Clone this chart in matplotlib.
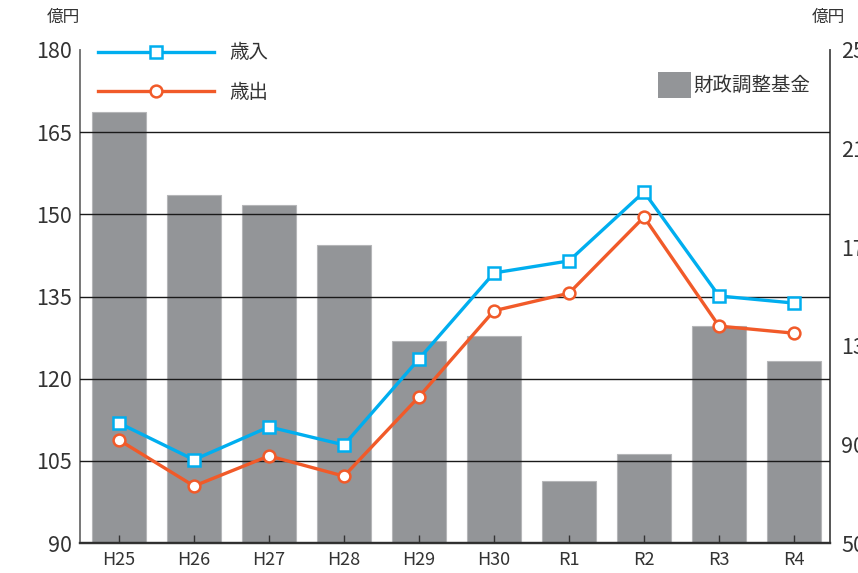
import matplotlib
matplotlib.use("Agg")
import matplotlib.pyplot as plt
from matplotlib.patches import Patch
from matplotlib.lines import Line2D

plt.rcParams['font.family'] = ['Noto Sans CJK JP', 'DejaVu Sans']

categories = ['H25', 'H26', 'H27', 'H28', 'H29', 'H30', 'R1', 'R2', 'R3', 'R4']
revenue = [111.9, 105.2, 111.2, 107.9, 123.6, 139.3, 141.5, 154.1, 135.1, 133.8]
expenditure = [108.8, 100.4, 105.9, 102.2, 116.7, 132.4, 135.6, 149.5, 129.6, 128.3]
fund = [225, 191, 187, 171, 132, 134, 75, 86, 138, 124]

left_ticks = [90, 105, 120, 135, 150, 165, 180]
right_ticks = [50, 90, 130, 170, 210, 250]

BLUE = '#00AEEF'
ORANGE = '#F15A29'
GREY = '#939598'

W, H = 858, 573
fig = plt.figure(figsize=(W/100, H/100), dpi=100)
ax = fig.add_axes([80/W, (H-543)/H, 750/W, 493/H])
ax2 = ax.twinx()

x = list(range(len(categories)))

ax2.set_zorder(0)
ax.set_zorder(1)
ax.patch.set_visible(False)

ax2.bar(x, fund, width=0.72, color=GREY, edgecolor='#B5B6B8', linewidth=0.8, zorder=1)
ax2.set_ylim(50, 250)
ax2.set_yticks(right_ticks)
ax2.tick_params(axis='y', length=0, pad=8, labelsize=15.5, labelcolor='#333333')

ax.set_ylim(90, 180)
ax.set_xlim(-0.52, 9.48)
ax.set_yticks(left_ticks)
ax.yaxis.grid(True, color='#1a1a1a', linewidth=1.0)
ax.set_axisbelow(False)
# no gridline at the top value
gl = ax.yaxis.get_gridlines()
gl[-1].set_visible(False)
ax.tick_params(axis='y', length=0, pad=6, labelsize=15.5, labelcolor='#333333')

ax.set_xticks(x)
ax.set_xticklabels(categories)
ax.tick_params(axis='x', direction='in', length=6, width=1, color='#333333',
               labelsize=13, labelcolor='#333333', pad=6)

ax.plot(x, revenue, color=BLUE, lw=2.4, marker='s', ms=8, mfc='white',
        mec=BLUE, mew=1.8, zorder=5)
ax.plot(x, expenditure, color=ORANGE, lw=2.4, marker='o', ms=8.5, mfc='white',
        mec=ORANGE, mew=1.8, zorder=5)

for a in (ax, ax2):
    a.spines['top'].set_visible(False)
    a.spines['left'].set_color('#777777')
    a.spines['right'].set_color('#555555')
    a.spines['bottom'].set_color('#333333')
    a.spines['bottom'].set_linewidth(1.6)
    a.spines['left'].set_linewidth(1.2)
    a.spines['right'].set_linewidth(1.2)

# unit labels
fig.text(63/W, 1-17/H, '億円', ha='center', va='center', fontsize=12, color='#333333')
fig.text(828/W, 1-17/H, '億円', ha='center', va='center', fontsize=12, color='#333333')

# legends
line_handles = [
    Line2D([], [], color=BLUE, lw=2.4, marker='s', ms=8, mfc='white', mec=BLUE, mew=1.8),
    Line2D([], [], color=ORANGE, lw=2.4, marker='o', ms=8.5, mfc='white', mec=ORANGE, mew=1.8),
]
leg1 = ax.legend(line_handles, ['歳入', '歳出'], loc='upper left',
                 bbox_to_anchor=(80/W, 1-25/H), bbox_transform=fig.transFigure,
                 frameon=False, fontsize=14, handlelength=6.0, numpoints=1,
                 labelspacing=0.95, handletextpad=0.8, labelcolor='#333333')
ax.add_artist(leg1)
bar_handle = [Patch(facecolor=GREY, edgecolor='none')]
leg2 = ax.legend(bar_handle, ['財政調整基金'], loc='upper right',
                 bbox_to_anchor=(824/W, 1-58/H), bbox_transform=fig.transFigure,
                 frameon=False, fontsize=14, handlelength=1.7, handleheight=1.75,
                 handletextpad=0.1, labelcolor='#333333', borderpad=0.2)

fig.savefig('out.png', dpi=100)
